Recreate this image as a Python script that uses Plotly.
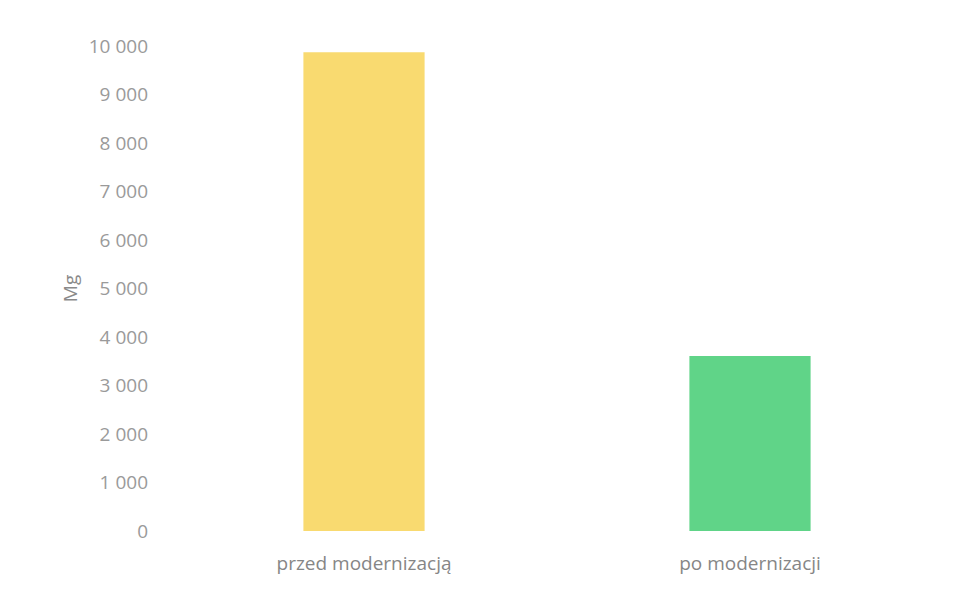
import plotly.graph_objects as go

categories = ["przed modernizacją", "po modernizacji"]
values = [9870, 3610]
colors = ["#F9DA70", "#60D488"]
tick_vals = [0, 1000, 2000, 3000, 4000, 5000, 6000, 7000, 8000, 9000, 10000]
tick_text = ["0", "1 000", "2 000", "3 000", "4 000", "5 000", "6 000", "7 000", "8 000", "9 000", "10 000"]

fig = go.Figure(go.Bar(
    x=categories, y=values, marker=dict(color=colors, line=dict(width=0)),
    width=0.314,
))

font_fam = "'Open Sans', Lato, sans-serif"
fig.update_layout(
    width=965, height=589,
    margin=dict(l=163, r=30, t=38, b=66, autoexpand=False),
    paper_bgcolor="white", plot_bgcolor="white",
    showlegend=False,
    font=dict(family=font_fam, color="#8a8a8a", size=17),
    xaxis=dict(showgrid=False, showline=False, zeroline=False, ticks="",
               ticklabelstandoff=19,
               tickfont=dict(size=19, color="#868686")),
    yaxis=dict(range=[0, 10000], tickvals=tick_vals, ticktext=tick_text,
               showgrid=False, zeroline=False, showline=False, ticks="",
               ticklabelstandoff=22,
               tickfont=dict(size=19, color="#9a9a9a"),
               title=dict(text="Mg", standoff=6, font=dict(size=19, color="#8a8a8a"))),
)

fig.write_html("out.html")
